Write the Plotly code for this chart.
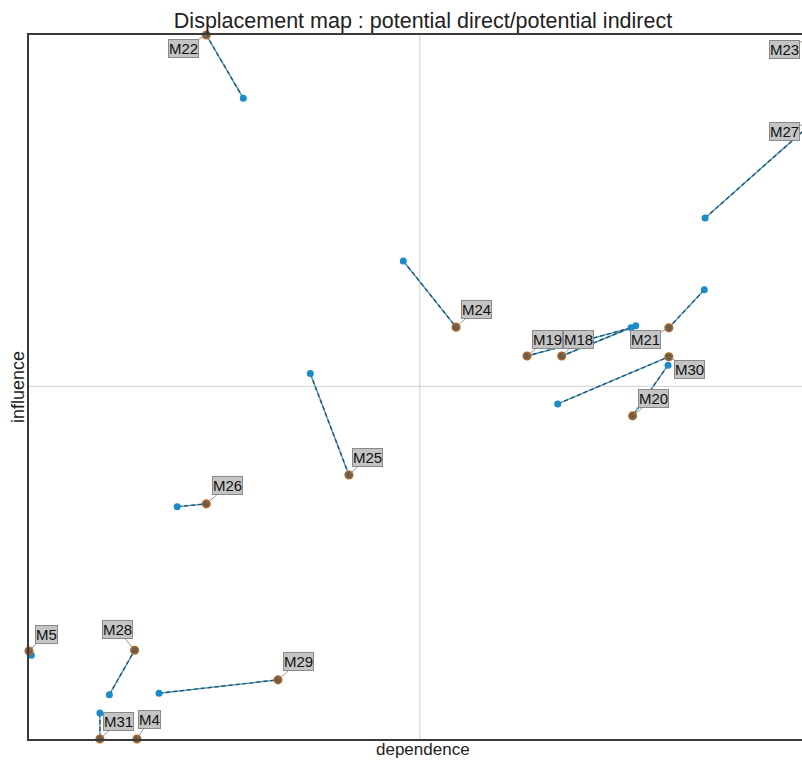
import plotly.graph_objects as go

# Variables and their positions on the influence / dependence plane
names = ["M22", "M23", "M27", "M24", "M19", "M18", "M21", "M30",
         "M20", "M25", "M26", "M5", "M28", "M29", "M31", "M4"]

# potential indirect (end of each displacement)
indirect_dep = [22.5, 100.0, 100.0, 54.2, 63.2, 67.6, 81.2, 81.2,
                76.6, 40.6, 22.5, 0.0, 13.4, 31.6, 9.0, 13.7]
indirect_inf = [100.0, 100.0, 88.1, 58.5, 54.4, 54.4, 58.4, 54.3,
                45.9, 37.5, 33.4, 12.5, 12.6, 8.4, 0.0, 0.0]

# potential direct (start of each displacement)
direct_dep = [27.2, 100.0, 85.8, 47.5, 76.4, 77.0, 85.7, 67.1,
              81.1, 35.7, 18.8, 0.3, 10.2, 16.5, 9.0, 13.8]
direct_inf = [91.0, 100.0, 74.0, 67.9, 58.4, 58.7, 63.8, 47.6,
              53.1, 51.9, 33.0, 11.9, 6.3, 6.5, 3.7, -0.3]

# reference lines (means)
mean_dep = 49.6
mean_inf = 50.1

# label placement (pixel offsets of label centre from the point)
label_offsets = {
    "M22": (-23, 13), "M23": (-32, 14), "M27": (-32, 13), "M24": (20, -18),
    "M19": (20, -17), "M18": (17, -17), "M21": (-23, 12), "M30": (21, 13),
    "M20": (21, -17), "M25": (19, -18), "M26": (21, -18), "M5": (17, -17),
    "M28": (-17, -21), "M29": (20, -18), "M31": (19, -18), "M4": (13, -20),
}

W, H = 802, 760
ML, MR, MT, MB = 29, 0, 35, 21
X_MAX = 98.1
Y_MIN, Y_MAX = 0.0, 100.0
px_x = (W - ML - MR) / X_MAX
px_y = (H - MT - MB) / (Y_MAX - Y_MIN)

FONT = "Liberation Sans, Arial, sans-serif"

fig = go.Figure()

# displacement segments: blue line with a darker dash over it
seg_x, seg_y = [], []
for x0, y0, x1, y1 in zip(direct_dep, direct_inf, indirect_dep, indirect_inf):
    seg_x += [x0, x1, None]
    seg_y += [y0, y1, None]

fig.add_trace(go.Scatter(x=seg_x, y=seg_y, mode="lines",
                         line=dict(color="#3aa0d0", width=1.4),
                         hoverinfo="skip", showlegend=False))
fig.add_trace(go.Scatter(x=seg_x, y=seg_y, mode="lines",
                         line=dict(color="#35505e", width=1.4, dash="4px,3px"),
                         hoverinfo="skip", showlegend=False))

fig.add_trace(go.Scatter(x=direct_dep, y=direct_inf, mode="markers",
                         marker=dict(size=7, color="#1b8cc8",
                                     line=dict(width=0)),
                         cliponaxis=False, text=names,
                         name="potential direct", showlegend=False))
fig.add_trace(go.Scatter(x=indirect_dep, y=indirect_inf, mode="markers",
                         marker=dict(size=7.5, color="#6b5a4a",
                                     line=dict(color="#a8682c", width=1.6)),
                         cliponaxis=False, text=names,
                         name="potential indirect", showlegend=False))

# mean cross
fig.add_shape(type="line", xref="x", yref="paper", x0=mean_dep, x1=mean_dep,
              y0=0, y1=1, line=dict(color="#cfcfcf", width=1), layer="below")
fig.add_shape(type="line", xref="paper", yref="y", x0=0, x1=1,
              y0=mean_inf, y1=mean_inf, line=dict(color="#cfcfcf", width=1),
              layer="below")

# variable labels with leader lines
for name, x, y in zip(names, indirect_dep, indirect_inf):
    dx, dy = label_offsets[name]
    fig.add_annotation(
        x=x, y=y, xref="x", yref="y",
        axref="x", ayref="y",
        ax=x + dx / px_x, ay=y - dy / px_y,
        text=name, showarrow=True, arrowhead=0, arrowwidth=0.8,
        arrowcolor="#8c7a68", standoff=0, startstandoff=0,
        font=dict(family=FONT, size=15, color="#111"),
        bgcolor="#c4c4c4", bordercolor="#8a8a8a", borderwidth=1, borderpad=0,
    )

# axis titles
fig.add_annotation(text="dependence", xref="paper", yref="paper",
                   x=(423 - ML) / (W - ML - MR), y=0, xanchor="center",
                   yanchor="top", yshift=1, showarrow=False,
                   font=dict(family=FONT, size=17, color="#222"))
fig.add_annotation(text="influence", xref="paper", yref="paper",
                   x=0, y=0.5, xanchor="center", yanchor="middle",
                   xshift=-11, textangle=-90, showarrow=False,
                   font=dict(family=FONT, size=18, color="#222"))

fig.update_layout(
    width=W, height=H,
    margin=dict(l=ML, r=MR, t=MT, b=MB, pad=0),
    paper_bgcolor="white", plot_bgcolor="white",
    title=dict(text="Displacement map : potential direct/potential indirect",
               x=423 / W, xref="container", xanchor="center",
               y=1 - 20 / H, yref="container", yanchor="middle",
               font=dict(family=FONT, size=21.5, color="#222")),
    xaxis=dict(range=[0, X_MAX], showgrid=False, zeroline=False,
               showticklabels=False, ticks="", showline=True, mirror=True,
               linecolor="#3a3a3a", linewidth=2),
    yaxis=dict(range=[Y_MIN, Y_MAX], showgrid=False, zeroline=False,
               showticklabels=False, ticks="", showline=True, mirror=False,
               linecolor="#3a3a3a", linewidth=2),
    showlegend=False,
)

fig.write_html("out.html")
